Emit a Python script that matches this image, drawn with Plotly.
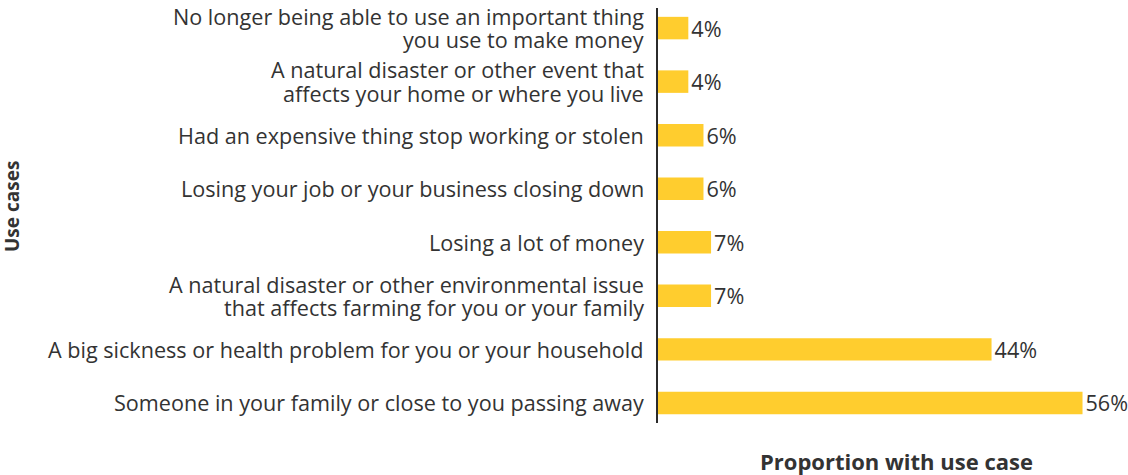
import plotly.graph_objects as go

use_cases = [
    "No longer being able to use an important thing<br>you use to make money",
    "A natural disaster or other event that<br>affects your home or where you live",
    "Had an expensive thing stop working or stolen",
    "Losing your job or your business closing down",
    "Losing a lot of money",
    "A natural disaster or other environmental issue<br>that affects farming for you or your family",
    "A big sickness or health problem for you or your household",
    "Someone in your family or close to you passing away",
]
proportions = [4, 4, 6, 6, 7, 7, 44, 56]

FONT = "Open Sans"
TEXT = "#333333"
BAR = "#FFCD2E"
LABEL_SIZE = 21.6
LINE_GAP = 23.5  # px between the lines of a wrapped category label

W, H = 1128, 475
M_L, M_R, M_T, M_B = 658, 0, 8, 52

fig = go.Figure(
    go.Bar(
        x=proportions,
        y=use_cases,
        orientation="h",
        marker=dict(color=BAR, line=dict(width=0)),
        text=[f"{v}%" for v in proportions],
        textposition="outside",
        constraintext="none",
        textfont=dict(family=FONT, size=LABEL_SIZE, color=TEXT),
        cliponaxis=False,
        hoverinfo="skip",
    )
)

# Category labels drawn line by line so wrapped labels keep a tight leading
annotations = []
for cat in use_cases:
    lines = cat.split("<br>")
    n = len(lines)
    for i, line in enumerate(lines):
        annotations.append(dict(
            text=line,
            x=0, xref="paper", xanchor="right", xshift=-12,
            y=cat, yref="y", yanchor="middle",
            yshift=((n - 1) / 2 - i) * LINE_GAP,
            showarrow=False,
            font=dict(family=FONT, size=LABEL_SIZE, color=TEXT),
        ))

# Axis titles positioned in page pixels
def paper_x(px):
    return (px - M_L) / (W - M_L - M_R)

def paper_y(py):
    return (H - M_B - py) / (H - M_B - M_T)

annotations.append(dict(
    text="<b>Proportion with use case</b>",
    x=paper_x(896), xref="paper", xanchor="center",
    y=paper_y(461), yref="paper", yanchor="middle",
    showarrow=False,
    font=dict(family=FONT, size=22, color=TEXT),
))
annotations.append(dict(
    text="<b>Use cases</b>",
    x=paper_x(12), xref="paper", xanchor="center",
    y=paper_y(207), yref="paper", yanchor="middle",
    textangle=-90,
    showarrow=False,
    font=dict(family=FONT, size=19, color=TEXT),
))

fig.update_layout(
    width=W,
    height=H,
    margin=dict(l=M_L, r=M_R, t=M_T, b=M_B),
    paper_bgcolor="white",
    plot_bgcolor="white",
    bargap=0.58,
    showlegend=False,
    font=dict(family=FONT, size=LABEL_SIZE, color=TEXT),
    xaxis=dict(
        range=[0, 62],
        showgrid=False,
        zeroline=False,
        showticklabels=False,
        ticks="",
        showline=False,
    ),
    yaxis=dict(
        categoryorder="array",
        categoryarray=use_cases,
        range=[7.375, -0.375],
        showgrid=False,
        zeroline=False,
        showline=True,
        linecolor="#2b2b2b",
        linewidth=2,
        ticks="",
        showticklabels=False,
    ),
    annotations=annotations,
)

fig.write_html("out.html")
